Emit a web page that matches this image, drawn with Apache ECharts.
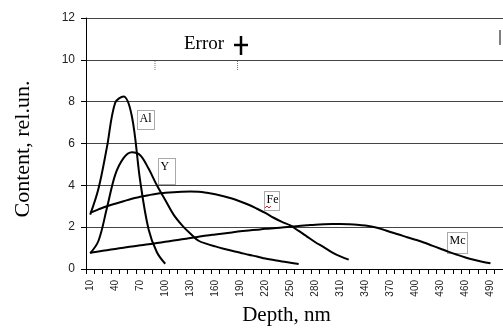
<!DOCTYPE html>
<html>
<head>
<meta charset="utf-8">
<script src="https://cdn.jsdelivr.net/npm/echarts@6/dist/echarts.min.js"></script>
<style>
    html, body {margin: 0; padding: 0; background: #fff;}
    #chart {width: 503px; height: 331px;}
</style>
</head>
<body>
<div id="chart"></div>
<script>
// depth categories, 10 nm step
const depths = [];
for (let d = 10; d <= 500; d += 10) depths.push(String(d));

const yTicks = [0, 2, 4, 6, 8, 10, 12];

// values (rel. units)
const al = [2.6, 3.85, 5.8, 7.95, 8.25, 7.3, 4.2, 1.9, 0.8, 0.25];
const y = [0.75, 1.35, 2.9, 4.5, 5.3, 5.58, 5.44, 4.8, 4.0, 3.3,
    2.6, 2.1, 1.7, 1.35, 1.2, 1.08, 0.97, 0.87, 0.78, 0.68,
    0.6, 0.5, 0.43, 0.36, 0.3, 0.24];
const fe = [2.69, 2.85, 3.0, 3.12, 3.24, 3.36, 3.45, 3.53, 3.6, 3.64,
    3.67, 3.69, 3.7, 3.69, 3.64, 3.57, 3.48, 3.37, 3.23, 3.07,
    2.88, 2.68, 2.45, 2.25, 2.08, 1.82, 1.55, 1.28, 1.05, 0.8,
    0.6, 0.45];
const mc = [0.78, 0.84, 0.9, 0.96, 1.02, 1.08, 1.13, 1.18, 1.24, 1.3,
    1.36, 1.42, 1.48, 1.54, 1.6, 1.65, 1.7, 1.75, 1.8, 1.84,
    1.88, 1.92, 1.95, 1.98, 2.02, 2.06, 2.09, 2.12, 2.14, 2.15,
    2.15, 2.14, 2.12, 2.08, 2.01, 1.9, 1.77, 1.65, 1.52, 1.4,
    1.27, 1.12, 0.97, 0.82, 0.68, 0.55, 0.44, 0.35, 0.28];

const serif = "'Liberation Serif', 'DejaVu Serif', serif";
const sans = "'Liberation Sans', Arial, sans-serif";

const chart = echarts.init(document.getElementById("chart"));

const curve = (name, data) => ({
    name: name,
    type: "line",
    data: data,
    smooth: 0.35,
    symbol: "none",
    silent: true,
    lineStyle: {color: "#000", width: 2}
});

// dotted label box with element name
const tag = (x, yy, w, h, txt) => ({
    type: "group",
    left: x, top: yy,
    children: [
        {type: "rect", shape: {x: 0, y: 0, width: w, height: h},
            style: {fill: "#fff", stroke: "#555", lineWidth: 1, lineDash: [1, 1]}},
        {type: "text", x: 2, y: 2,
            style: {text: txt, font: "12px " + serif, fill: "#000"}}
    ]
});

chart.setOption({
    animation: false,
    grid: {left: 86, right: 0, top: 18, bottom: 57},
    xAxis: {
        type: "category",
        data: depths,
        boundaryGap: true,
        name: "Depth, nm",
        nameLocation: "middle",
        nameGap: 36,
        nameTextStyle: {fontFamily: serif, fontSize: 21, color: "#000", padding: [0, 16, 0, 0]},
        axisLine: {lineStyle: {color: "#000", width: 1}},
        axisTick: {show: true, interval: 0, length: 5, lineStyle: {color: "#000"}},
        axisLabel: {interval: 2, rotate: 90, fontFamily: sans, fontSize: 10, color: "#222", margin: 11}
    },
    yAxis: {
        type: "value",
        min: yTicks[0],
        max: yTicks[yTicks.length - 1],
        interval: 2,
        name: "Content, rel.un.",
        nameLocation: "middle",
        nameGap: 52,
        nameTextStyle: {fontFamily: serif, fontSize: 22, color: "#000", padding: [0, 11, 0, 0]},
        axisLine: {show: true, lineStyle: {color: "#000", width: 1}},
        axisTick: {show: true, length: 5, lineStyle: {color: "#000"}},
        axisLabel: {fontFamily: sans, fontSize: 12, color: "#222", margin: 11},
        splitLine: {lineStyle: {color: "#444", width: 1}}
    },
    series: [curve("Al", al), curve("Y", y), curve("Fe", fe), curve("Mc", mc)],
    graphic: [
        {type: "text", left: 184, top: 35,
            style: {text: "Error", font: "19px " + serif, fill: "#000"}},
        {type: "line", shape: {x1: 241, y1: 36, x2: 241, y2: 55}, style: {stroke: "#000", lineWidth: 2.5}},
        {type: "line", shape: {x1: 234, y1: 45, x2: 248, y2: 45}, style: {stroke: "#000", lineWidth: 2.5}},
        {type: "line", shape: {x1: 155, y1: 61, x2: 155, y2: 71}, style: {stroke: "#777", lineWidth: 1, lineDash: [1, 1]}},
        {type: "line", shape: {x1: 237.5, y1: 61, x2: 237.5, y2: 71}, style: {stroke: "#777", lineWidth: 1, lineDash: [1, 1]}},
        {type: "line", shape: {x1: 500, y1: 30, x2: 500, y2: 45}, style: {stroke: "#000", lineWidth: 1}},
        tag(137, 110, 17, 19, "Al"),
        tag(158, 158, 17, 26, "Y"),
        tag(264, 191, 15, 19, "Fe"),
        {type: "polyline", shape: {points: [[265, 208], [267, 206], [269, 208], [271, 206]]},
            style: {stroke: "#e02020", lineWidth: 1, fill: null}},
        tag(447, 232, 20, 21, "Mc")
    ]
});
</script>
</body>
</html>
